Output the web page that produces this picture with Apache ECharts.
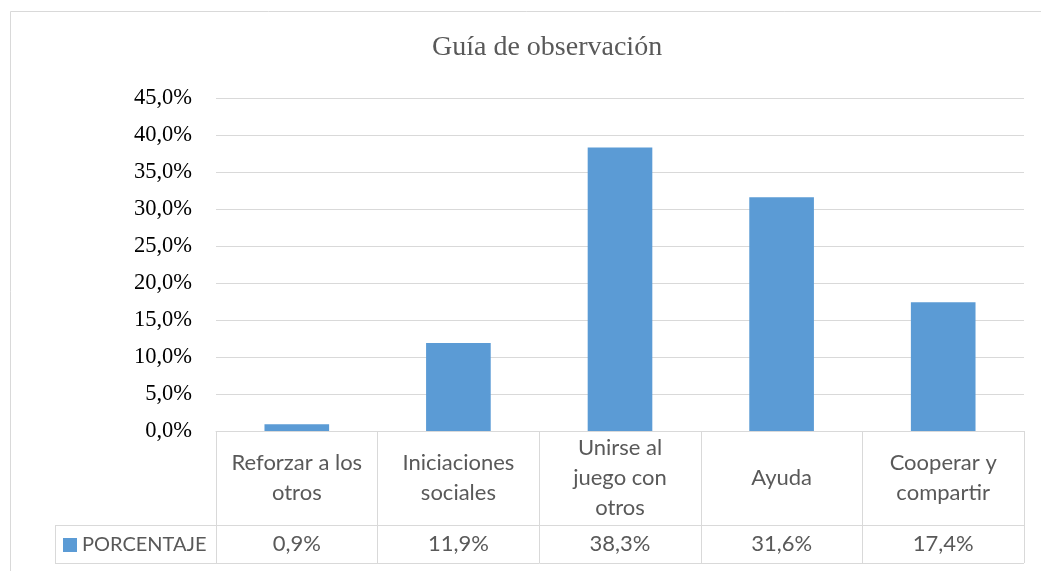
<!DOCTYPE html>
<html>
<head>
<meta charset="utf-8">
<script src="https://cdn.jsdelivr.net/npm/echarts@6/dist/echarts.min.js"></script>
<style>html,body{margin:0;padding:0;background:#fff}#c{width:1041px;height:571px}</style>
</head>
<body>
<div id="c"></div>
<script>
var categories = ['Reforzar a los\notros', 'Iniciaciones\nsociales', 'Unirse al\njuego con\notros', 'Ayuda', 'Cooperar y\ncompartir'];
var values = [0.9, 11.9, 38.3, 31.6, 17.4];
var seriesName = 'PORCENTAJE';
var titleText = 'Guía de observación';
var yMin = 0, yMax = 45, yStep = 5;

function pct(v) { return v.toFixed(1).replace('.', ',') + '%'; }

var W = 1041, H = 571;
var gridLeft = 216, gridRight = 17, gridTop = 98, gridBottom = 140;
var axisY = H - gridBottom;
var row1 = 94, row2 = 132;
var tableLeft = 55;
var lineColor = '#d9d9d9';
var tableFont = 'Lato';
var textGray = '#595959';

var chart = echarts.init(document.getElementById('c'), null, {renderer: 'canvas'});
chart.setOption({
  animation: false,
  backgroundColor: '#fff',
  title: {
    text: titleText, left: 427, top: 29,
    textStyle: {fontFamily: 'Liberation Serif', fontSize: 28, fontWeight: 'normal', color: textGray}
  },
  legend: {
    data: [seriesName], left: 63, top: 535, icon: 'rect', itemWidth: 14, itemHeight: 14, padding: 0,
    textStyle: {fontFamily: tableFont, fontSize: 20, color: textGray}
  },
  grid: {left: gridLeft, right: gridRight, top: gridTop, bottom: gridBottom, containLabel: false},
  xAxis: [{
    type: 'category', data: categories, position: 'bottom',
    axisLine: {show: true, lineStyle: {color: lineColor, width: 1}},
    axisTick: {show: true, length: row2, interval: 0, lineStyle: {color: lineColor}},
    axisLabel: {interval: 0, margin: 47, verticalAlign: 'middle', lineHeight: 30, align: 'center',
      fontFamily: tableFont, fontSize: 22, color: textGray}
  }, {
    type: 'category', data: categories, position: 'bottom',
    axisLine: {show: false}, axisTick: {show: false},
    axisLabel: {interval: 0, margin: 113, verticalAlign: 'middle',
      fontFamily: tableFont, fontSize: 22, color: textGray,
      formatter: function (v, i) { return pct(values[i]); }}
  }],
  yAxis: {
    type: 'value', min: yMin, max: yMax, interval: yStep,
    axisLine: {show: false}, axisTick: {show: false},
    splitLine: {lineStyle: {color: lineColor, width: 1}},
    axisLabel: {margin: 24, fontFamily: 'Liberation Serif', fontSize: 22.5, color: '#000', formatter: function (v) { return pct(v); }}
  },
  series: [{
    name: seriesName, type: 'bar', data: values, barWidth: '40%', xAxisIndex: 0,
    itemStyle: {color: '#5b9bd5'}
  }],
  graphic: [
    {type: 'rect', silent: true, shape: {x: 10.5, y: 11.5, width: 1100, height: 700}, style: {fill: 'none', stroke: lineColor, lineWidth: 1}, z: -1},
    {type: 'line', silent: true, shape: {x1: tableLeft, y1: axisY + row1 + 0.5, x2: W - gridRight, y2: axisY + row1 + 0.5}, style: {stroke: lineColor, lineWidth: 1}},
    {type: 'line', silent: true, shape: {x1: tableLeft, y1: axisY + row2 + 0.5, x2: W - gridRight, y2: axisY + row2 + 0.5}, style: {stroke: lineColor, lineWidth: 1}},
    {type: 'line', silent: true, shape: {x1: tableLeft + 0.5, y1: axisY + row1, x2: tableLeft + 0.5, y2: axisY + row2}, style: {stroke: lineColor, lineWidth: 1}}
  ]
});
</script>
</body>
</html>
